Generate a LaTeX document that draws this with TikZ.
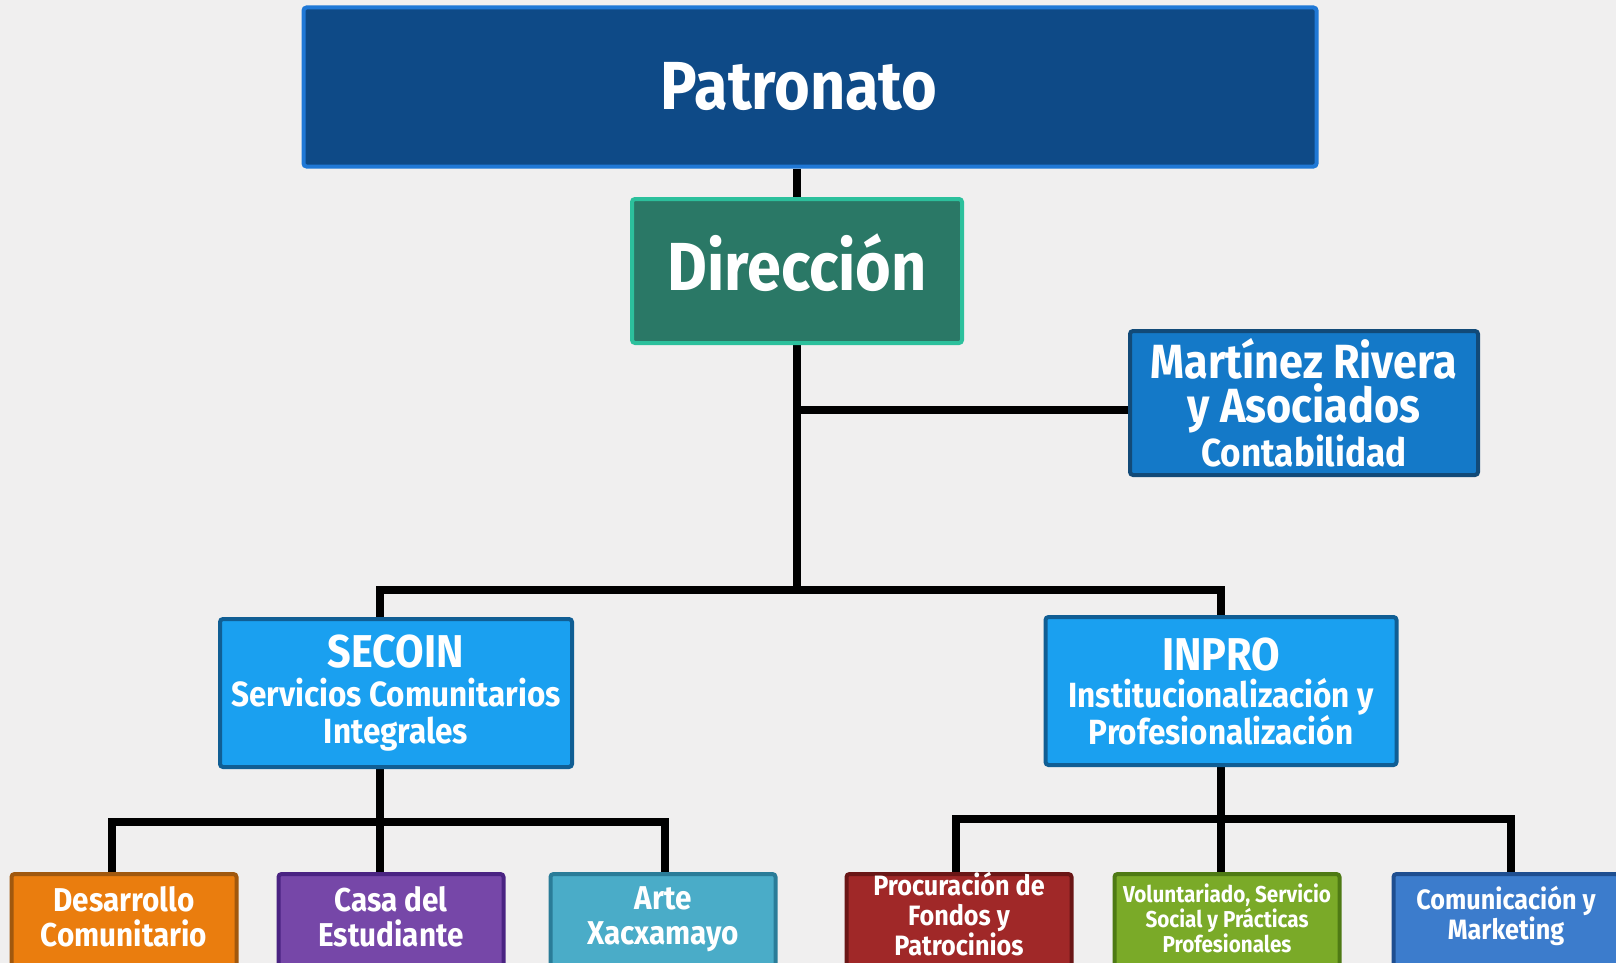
\documentclass[tikz,border=0pt]{standalone}
\usepackage{fontspec}
\setmainfont{Fira Sans}[FakeStretch=0.9]
\usetikzlibrary{backgrounds}

\definecolor{fondo}{HTML}{F0EFEF}
\definecolor{patronatoFill}{HTML}{0E4A87}
\definecolor{patronatoLine}{HTML}{1F78D6}
\definecolor{direccionFill}{HTML}{2A7866}
\definecolor{direccionLine}{HTML}{2CC09C}
\definecolor{martinezFill}{HTML}{1479C8}
\definecolor{martinezLine}{HTML}{124A78}
\definecolor{areaFill}{HTML}{1AA0F0}
\definecolor{areaLine}{HTML}{105E94}
\definecolor{desaFill}{HTML}{EA7D0E}
\definecolor{desaLine}{HTML}{A0580E}
\definecolor{casaFill}{HTML}{7647A8}
\definecolor{casaLine}{HTML}{4A2382}
\definecolor{arteFill}{HTML}{4AACC8}
\definecolor{arteLine}{HTML}{2A7C98}
\definecolor{procFill}{HTML}{A02828}
\definecolor{procLine}{HTML}{6A1616}
\definecolor{voluFill}{HTML}{7AAA28}
\definecolor{voluLine}{HTML}{4E7A14}
\definecolor{comuFill}{HTML}{3C7CCC}
\definecolor{comuLine}{HTML}{1E4E90}

% texto de las cajas de abajo
\newcommand{\hojatexto}[1]{\parbox[t]{220pt}{\centering #1}}

\tikzset{
  caja/.style={draw, line width=4pt, rounded corners=3pt, text=white,
    align=center, font=\bfseries, inner sep=0pt},
  enlace/.style={line width=8pt, draw=black},
  hoja/.style={caja, anchor=north, minimum width=225pt,
    text height=#1, text depth=110pt},
  hoja/.default=37pt
}

\begin{document}
\begin{tikzpicture}[x=1pt,y=-1pt]
  \useasboundingbox (0,0) rectangle (1616,963);

  % Nivel superior
  \node[caja, fill=patronatoFill, draw=patronatoLine, minimum width=1013pt,
    minimum height=159pt, font=\bfseries\fontsize{68}{70}\selectfont]
    (patronato) at (810,87) {Patronato\kern22pt};
  \node[caja, fill=direccionFill, draw=direccionLine, minimum width=330pt,
    minimum height=144pt, text depth=18pt,
    font=\bfseries\fontsize{68}{70}\selectfont]
    (direccion) at (797,271) {Dirección};
  \node[caja, fill=martinezFill, draw=martinezLine, minimum width=348pt,
    minimum height=144pt, font=\bfseries\fontsize{48}{44}\selectfont]
    (martinez) at (1304,403)
    {Martínez Rivera\\y Asociados\\{\fontsize{39}{42}\selectfont Contabilidad}};

  % Coordinaciones
  \node[caja, fill=areaFill, draw=areaLine, minimum width=352pt,
    minimum height=148pt, font=\bfseries\fontsize{35}{37}\selectfont]
    (secoin) at (396,693)
    {{\fontsize{46}{37}\selectfont SECOIN}\\[2pt]Servicios Comunitarios\\Integrales};
  \node[caja, fill=areaFill, draw=areaLine, minimum width=351pt,
    minimum height=148pt, font=\bfseries\fontsize{35}{37}\selectfont]
    (inpro) at (1221,691)
    {{\fontsize{46}{37}\selectfont INPRO}\\Institucionalización y\\Profesionalización};

  % Programas
  \node[hoja, fill=desaFill, draw=desaLine, font=\bfseries\fontsize{33}{35}\selectfont]
    (desarrollo) at (124,872) {\hojatexto{Desarrollo\\Comunitario}};
  \node[hoja, fill=casaFill, draw=casaLine, font=\bfseries\fontsize{33}{35}\selectfont]
    (casa) at (391,872) {\hojatexto{Casa del\\Estudiante}};
  \node[hoja=35pt, fill=arteFill, draw=arteLine, font=\bfseries\fontsize{33}{35}\selectfont]
    (arte) at (663,872) {\hojatexto{Arte\\Xacxamayo}};
  \node[hoja=21pt, fill=procFill, draw=procLine, font=\bfseries\fontsize{28}{30}\selectfont]
    (procuracion) at (959,872) {\hojatexto{Procuración de\\Fondos y\\Patrocinios}};
  \node[hoja=28pt, fill=voluFill, draw=voluLine, font=\bfseries\fontsize{23}{25}\selectfont]
    (voluntariado) at (1227,872)
    {\hojatexto{Voluntariado, Servicio\\Social y Prácticas\\Profesionales}};
  \node[hoja=35pt, fill=comuFill, draw=comuLine, font=\bfseries\fontsize{28}{30}\selectfont]
    (comunicacion) at (1506,872) {\hojatexto{Comunicación y\\Marketing}};

  % Puntos de las lineas
  \coordinate (rama) at (797,410);
  \coordinate (tronco) at (797,590);
  \coordinate (barraIzq) at (380,590);
  \coordinate (barraDer) at (1221,590);
  \coordinate (subIzq) at (380,822);
  \coordinate (subDer) at (1221,819);

  \begin{scope}[on background layer]
    \fill[fondo] (0,0) rectangle (1616,963);

    % Lineas
    \draw[enlace] (direccion.north |- patronato.south) -- (direccion.north);
    \draw[enlace] (direccion.south) -- (tronco);
    \draw[enlace] (rama) -- (rama -| martinez.west);
    \draw[enlace] (barraIzq |- secoin.north) -- (barraIzq) -- (barraDer)
      -- (barraDer |- inpro.north);
    \draw[enlace] (subIzq |- secoin.south) -- (subIzq);
    \draw[enlace] (subDer |- inpro.south) -- (subDer);
    \draw[enlace] (112,872) -- (112,822) -- (665,822) -- (665,872);
    \draw[enlace] (subIzq) -- (subIzq |- casa.north);
    \draw[enlace] (956,872) -- (956,819) -- (1511,819) -- (1511,872);
    \draw[enlace] (subDer) -- (subDer |- voluntariado.north);
  \end{scope}
\end{tikzpicture}
\end{document}
